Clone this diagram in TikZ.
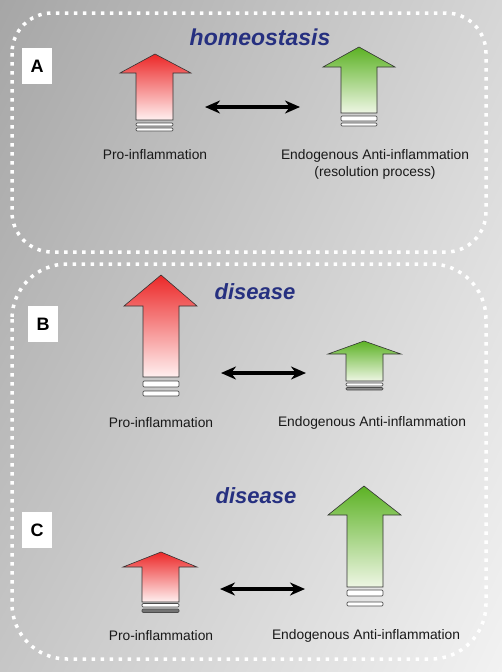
\documentclass[tikz,border=0pt]{standalone}
\usepackage{fontspec}
\setmainfont{Liberation Sans}
\usetikzlibrary{arrows.meta,shadings}

\definecolor{bgtl}{RGB}{166,166,166}
\definecolor{bgtr}{RGB}{214,214,214}
\definecolor{bgbl}{RGB}{198,198,198}
\definecolor{bgbr}{RGB}{242,242,242}
\definecolor{titleblue}{RGB}{38,48,128}
\definecolor{prored}{RGB}{236,40,40}
\definecolor{promid}{RGB}{240,110,110}
\definecolor{prolight}{RGB}{255,240,240}
\definecolor{antigreen}{RGB}{92,178,36}
\definecolor{antimid}{RGB}{150,205,110}
\definecolor{antilight}{RGB}{238,246,228}

\tikzset{
  panelframe/.style={draw=white, line width=3.5pt, dash pattern=on 3.5pt off 5.5pt},
  letterbox/.style={fill=white, minimum width=30pt, minimum height=36pt, inner sep=0pt,
    font=\fontsize{18}{18}\selectfont\bfseries},
  titletext/.style={text=titleblue, inner sep=0pt, font=\fontsize{23}{23}\selectfont\bfseries\itshape},
  armlabel/.style={align=center, inner sep=0pt, text=black!90, font=\fontsize{13.8}{17}\selectfont},
  proarrow/.style={draw=black!80, line width=0.6pt, top color=prored, middle color=promid, bottom color=prolight},
  antiarrow/.style={draw=black!80, line width=0.6pt, top color=antigreen, middle color=antimid, bottom color=antilight},
  ringbar/.style={draw=black!70, line width=0.7pt, fill=white, rounded corners=1.2pt},
  balance/.style={line width=4pt, {Stealth[length=15pt,width=13pt]}-{Stealth[length=15pt,width=13pt]}}
}

\begin{document}
\begin{tikzpicture}[x=1pt,y=-1pt]
\useasboundingbox (0,0) rectangle (502,672);
\shade[upper left=bgtl, upper right=bgtr, lower left=bgbl, lower right=bgbr] (0,0) rectangle (502,672);
% Frames of the two panels
\draw[panelframe, rounded corners=40pt] (12,13) rectangle (486,252);
\draw[panelframe, rounded corners=55pt] (12,264) rectangle (486,659);
% Panel A: homeostasis
\node[titletext] (titleA) at (260,37) {homeostasis};
\node[letterbox] (letterA) at (37,66) {A};
% pro-inflammation arrow
\draw[proarrow] (155,54) -- (191,73) -- (173,73) -- (173,120) -- (136,120) -- (136,73) -- (120,73) -- cycle;
\draw[ringbar] (136,123) rectangle (173,126);
\draw[ringbar] (136,128) rectangle (173,131);
% anti-inflammation arrow
\draw[antiarrow] (359,47) -- (395,67) -- (377,67) -- (377,113) -- (341,113) -- (341,67) -- (323,67) -- cycle;
\draw[ringbar] (341,116) rectangle (377,121);
\draw[ringbar] (341,123) rectangle (377,126);
% balance
\coordinate (balAl) at (205,107);
\coordinate (balAr) at (300,107);
\draw[balance] (balAl) -- (balAr);
\node[armlabel] (proA) at (155,155) {Pro-inflammation};
\node[armlabel] (antiA) at (375,164) {Endogenous Anti-inflammation\\(resolution process)};
% Panel B: too little resolution
\node[titletext, font=\fontsize{22}{22}\selectfont\bfseries\itshape] (titleB) at (255,292) {disease};
\node[letterbox] (letterB) at (43,324) {B};
\draw[proarrow] (161,275) -- (197,306) -- (179,306) -- (179,377) -- (143,377) -- (143,306) -- (124,306) -- cycle;
\draw[ringbar] (143,381) rectangle (179,387);
\draw[ringbar] (143,391) rectangle (179,396);
\draw[antiarrow] (364,341) -- (401,354) -- (383,354) -- (383,381) -- (346,381) -- (346,354) -- (328,354) -- cycle;
\draw[ringbar] (346,383) rectangle (383,386);
\draw[ringbar, fill=black!45] (346,387.5) rectangle (383,390);
\coordinate (balBl) at (221,373);
\coordinate (balBr) at (306,373);
\draw[balance] (balBl) -- (balBr);
\node[armlabel] (proB) at (161,423) {Pro-inflammation};
\node[armlabel] (antiB) at (372,423) {Endogenous Anti-inflammation};
% Panel C: too much resolution
\node[titletext, font=\fontsize{22}{22}\selectfont\bfseries\itshape] (titleC) at (256,496) {disease};
\node[letterbox] (letterC) at (37,530) {C};
\draw[proarrow] (161,552) -- (197,567) -- (179,567) -- (179,602) -- (142,602) -- (142,567) -- (123,567) -- cycle;
\draw[ringbar] (142,603.5) rectangle (179,607);
\draw[ringbar, fill=black!55] (142,609) rectangle (179,612.5);
\draw[antiarrow] (364,486) -- (401,515) -- (383,515) -- (383,587) -- (347,587) -- (347,515) -- (328,515) -- cycle;
\draw[ringbar] (347,590) rectangle (383,596);
\draw[ringbar] (347,602) rectangle (383,606);
\coordinate (balCl) at (220,589);
\coordinate (balCr) at (305,589);
\draw[balance] (balCl) -- (balCr);
\node[armlabel] (proC) at (161,636) {Pro-inflammation};
\node[armlabel] (antiC) at (366,636) {Endogenous Anti-inflammation};
\end{tikzpicture}
\end{document}
